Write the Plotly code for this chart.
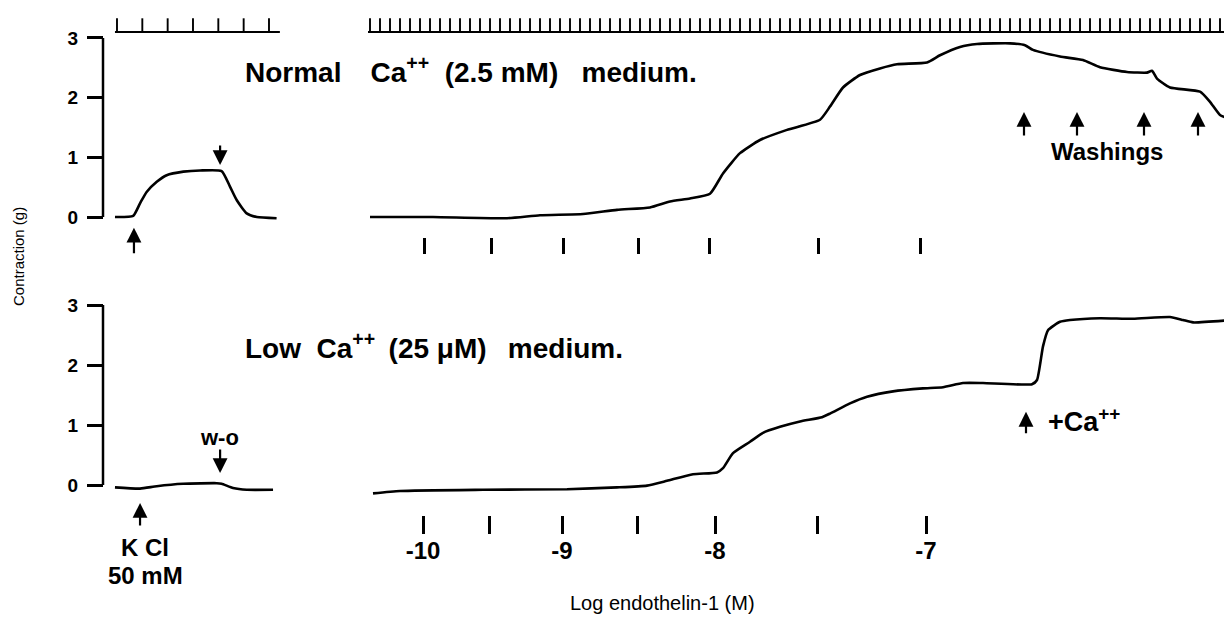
import plotly.graph_objects as go

# ---------------- data ----------------
# main recordings: time (min) vs contraction (g)
top_t = [0.0, 6.3, 13.7, 17.0, 21.3, 24.7, 28.0, 30.0, 32.0, 34.0, 35.3, 37.0, 39.0, 41.7, 45.0,
         46.0, 47.3, 49.0, 51.0, 52.7, 55.7, 57.0, 59.0, 60.7, 64.0, 65.5, 66.3, 69.0, 71.3, 73.0,
         75.7, 77.7, 78.2, 78.7, 80.0, 83.0, 84.0, 85.0, 86.2]
top_g = [0.0, 0.0, -0.02, 0.03, 0.05, 0.12, 0.16, 0.26, 0.31, 0.39, 0.73, 1.07, 1.29, 1.46, 1.63,
         1.85, 2.17, 2.38, 2.49, 2.56, 2.59, 2.71, 2.85, 2.90, 2.91, 2.88, 2.80, 2.69, 2.63, 2.51,
         2.43, 2.42, 2.45, 2.32, 2.17, 2.10, 1.93, 1.71, 1.63]
bot_t = [0.3, 3.0, 11.3, 19.7, 24.7, 27.7, 29.7, 32.3, 34.7, 35.3, 36.3, 38.0, 39.3, 41.0, 43.0,
         45.2, 46.0, 48.0, 49.7, 52.3, 55.3, 57.3, 59.3, 61.3, 66.2, 66.7, 67.3, 67.8, 69.0, 70.0,
         73.0, 76.3, 80.0, 81.3, 82.3, 86.2]
bot_g = [-0.14, -0.10, -0.08, -0.07, -0.04, -0.01, 0.07, 0.18, 0.21, 0.28, 0.53, 0.72, 0.87, 0.97, 1.06,
         1.13, 1.19, 1.36, 1.47, 1.56, 1.61, 1.63, 1.70, 1.70, 1.68, 1.75, 2.31, 2.58, 2.72, 2.75,
         2.78, 2.77, 2.80, 2.75, 2.71, 2.75]

# KCl (50 mM) responses: time (min) vs contraction (g)
kcl_top_t = [-0.08, 0.64, 0.91, 1.17, 1.57, 1.96, 2.62, 3.28, 4.13, 4.46, 4.73, 5.12, 5.52, 6.30]
kcl_top_g = [0.0, 0.02, 0.23, 0.42, 0.59, 0.70, 0.76, 0.78, 0.77, 0.51, 0.28, 0.06, 0.0, -0.02]
kcl_bot_t = [-0.08, 0.91, 1.57, 2.61, 3.94, 4.13, 4.58, 5.12, 6.16]
kcl_bot_g = [-0.04, -0.06, -0.02, 0.02, 0.03, 0.02, -0.05, -0.08, -0.08]

# time marks (1 min) of the recorder
kcl_marks_t = list(range(0, 7))
main_marks_t = list(range(0, 87))

# endothelin-1 additions
dose_t_top = [5.4, 12.1, 19.3, 26.8, 33.9, 44.8, 55.0]
dose_t_bot = [5.3, 11.9, 19.2, 26.7, 34.5, 44.7, 55.6]
dose_labels = ["-10", "", "-9", "", "-8", "", "-7"]

# events
kcl_add_top_t, washout_top_t = 0.67, 4.07
kcl_add_bot_t, washout_bot_t = 0.91, 4.07
washings_t = [65.4, 70.7, 77.4, 82.8]
ca_add_t = 65.6

y_ticks = [0, 1, 2, 3]

# ---------------- layout helpers ----------------
# the page body adds an 8 px margin, so the figure is 8 px smaller and
# every reference pixel position is shifted by that offset
OFF = 8
W, H = 1232 - OFF, 617 - OFF
def px(x):
    return (x - OFF) / W
def py(y):
    return 1 - (y - OFF) / H

FONT = "Liberation Sans, Arial, Helvetica, sans-serif"
LW = 2.6

fig = go.Figure()

def line(x, y, xa, ya, w=LW):
    fig.add_trace(go.Scatter(x=x, y=y, xaxis=xa, yaxis=ya, mode="lines",
                             line=dict(color="black", width=w, shape="spline", smoothing=0.5),
                             hoverinfo="skip", showlegend=False))

line(top_t, top_g, "x", "y")
line(kcl_top_t, kcl_top_g, "x2", "y")
line(bot_t, bot_g, "x3", "y2")
line(kcl_bot_t, kcl_bot_g, "x2", "y2")

# recorder time-mark rows (top of the upper panel)
mark_base, mark_top = 3.10, 3.33
def marks(times, xa, start, end):
    xs, ys = [start, end, None], [mark_base, mark_base, None]
    for t in times:
        xs += [t, t, None]
        ys += [mark_base, mark_top, None]
    fig.add_trace(go.Scatter(x=xs, y=ys, xaxis=xa, yaxis="y", mode="lines",
                             line=dict(color="black", width=1.9),
                             hoverinfo="skip", showlegend=False))

marks(kcl_marks_t, "x2", kcl_marks_t[0] - 0.08, kcl_marks_t[-1] + 0.43)
marks(main_marks_t, "x", main_marks_t[0] - 0.2, main_marks_t[-1] + 1.0)

axis_common = dict(showgrid=False, zeroline=False, showline=False, color="black")
ytick_common = dict(anchor="free", position=px(103), tickmode="array", tickvals=y_ticks,
                    ticks="outside", ticklen=16, tickwidth=2.5, tickcolor="black",
                    ticklabelstandoff=5,
                    tickfont=dict(family=FONT, size=19, weight="bold"), **axis_common)

fig.update_layout(
    width=W, height=H, autosize=False,
    margin=dict(l=0, r=0, t=0, b=0),
    paper_bgcolor="white", plot_bgcolor="white",
    font=dict(family=FONT, color="black"),
    xaxis=dict(domain=[px(360), 1], range=[-1.0, 86.2], anchor="free", position=py(237),
               tickmode="array", tickvals=dose_t_top, ticks="outside", ticklen=16, tickwidth=2.5,
               tickcolor="black", showticklabels=False, **axis_common),
    xaxis3=dict(domain=[px(360), 1], range=[-1.0, 86.2], anchor="free", position=py(515),
                tickmode="array", tickvals=dose_t_bot, ticktext=dose_labels, ticks="outside",
                ticklen=18, tickwidth=2.5, tickcolor="black", ticklabelstandoff=-4,
                tickfont=dict(family=FONT, size=24, weight="bold"), **axis_common),
    xaxis2=dict(domain=[px(110), px(285)], range=[-0.276, 6.632], visible=False, anchor="y"),
    yaxis=dict(domain=[py(262), py(10)], range=[(217 - 262) / 59.67, (217 - 10) / 59.67],
               **ytick_common),
    yaxis2=dict(domain=[py(540), py(288)], range=[(485 - 540) / 60, (485 - 288) / 60],
                **ytick_common),
)

# axis spines of the two scale bars
for yr in ("y", "y2"):
    fig.add_shape(type="line", xref="paper", yref=yr, x0=px(103), x1=px(103),
                  y0=min(y_ticks), y1=max(y_ticks), line=dict(color="black", width=2.5))

# arrows
def arrow(x, y, xr, yr, ay):
    fig.add_annotation(x=x, y=y, xref=xr, yref=yr, ax=0, ay=ay, text="", showarrow=True,
                       arrowhead=2, arrowsize=1.35, arrowwidth=2.2, arrowcolor="black")

arrow(kcl_add_top_t, -0.18, "x2", "y", 27)
arrow(washout_top_t, 0.87, "x2", "y", -21)
for t in washings_t:
    arrow(t, 1.76, "x", "y", 25)
arrow(ca_add_t, 1.22, "x3", "y2", 23)
arrow(kcl_add_bot_t, -0.30, "x2", "y2", 24)
arrow(washout_bot_t, 0.20, "x2", "y2", -25)

def label(text, x, y, size, bold=True, xanchor="center", yanchor="middle", angle=0):
    fig.add_annotation(x=x, y=y, xref="paper", yref="paper", text=text, showarrow=False,
                       xanchor=xanchor, yanchor=yanchor, textangle=angle,
                       font=dict(family=FONT, size=size, color="black",
                                 weight="bold" if bold else "normal"))

NB = "\u00a0"
TH = "\u2009"
label("Normal" + NB * 3 + TH + "Ca<sup>++</sup>" + NB * 2 + "(2.5 mM)" + NB * 3 + "medium.",
      px(243), py(70), 28, xanchor="left")
label("Low" + NB * 2 + "Ca<sup>++</sup>" + NB + TH + "(25 μM)" + NB * 2 + TH + "medium.",
      px(243), py(346), 28, xanchor="left")
label("Washings", px(1107), py(152), 24)
label("+Ca<sup>++</sup>", px(1046), py(420), 27, xanchor="left")
label("w-o", px(219), py(437), 22)
label("K Cl", px(145), py(547), 24)
label("50 mM", px(145), py(575), 24)
label("Contraction (g)", px(18), py(257), 15, bold=False, angle=-90)
label("Log endothelin-1 (M)", px(662), py(603), 20, bold=False)

fig.write_html("out.html")
